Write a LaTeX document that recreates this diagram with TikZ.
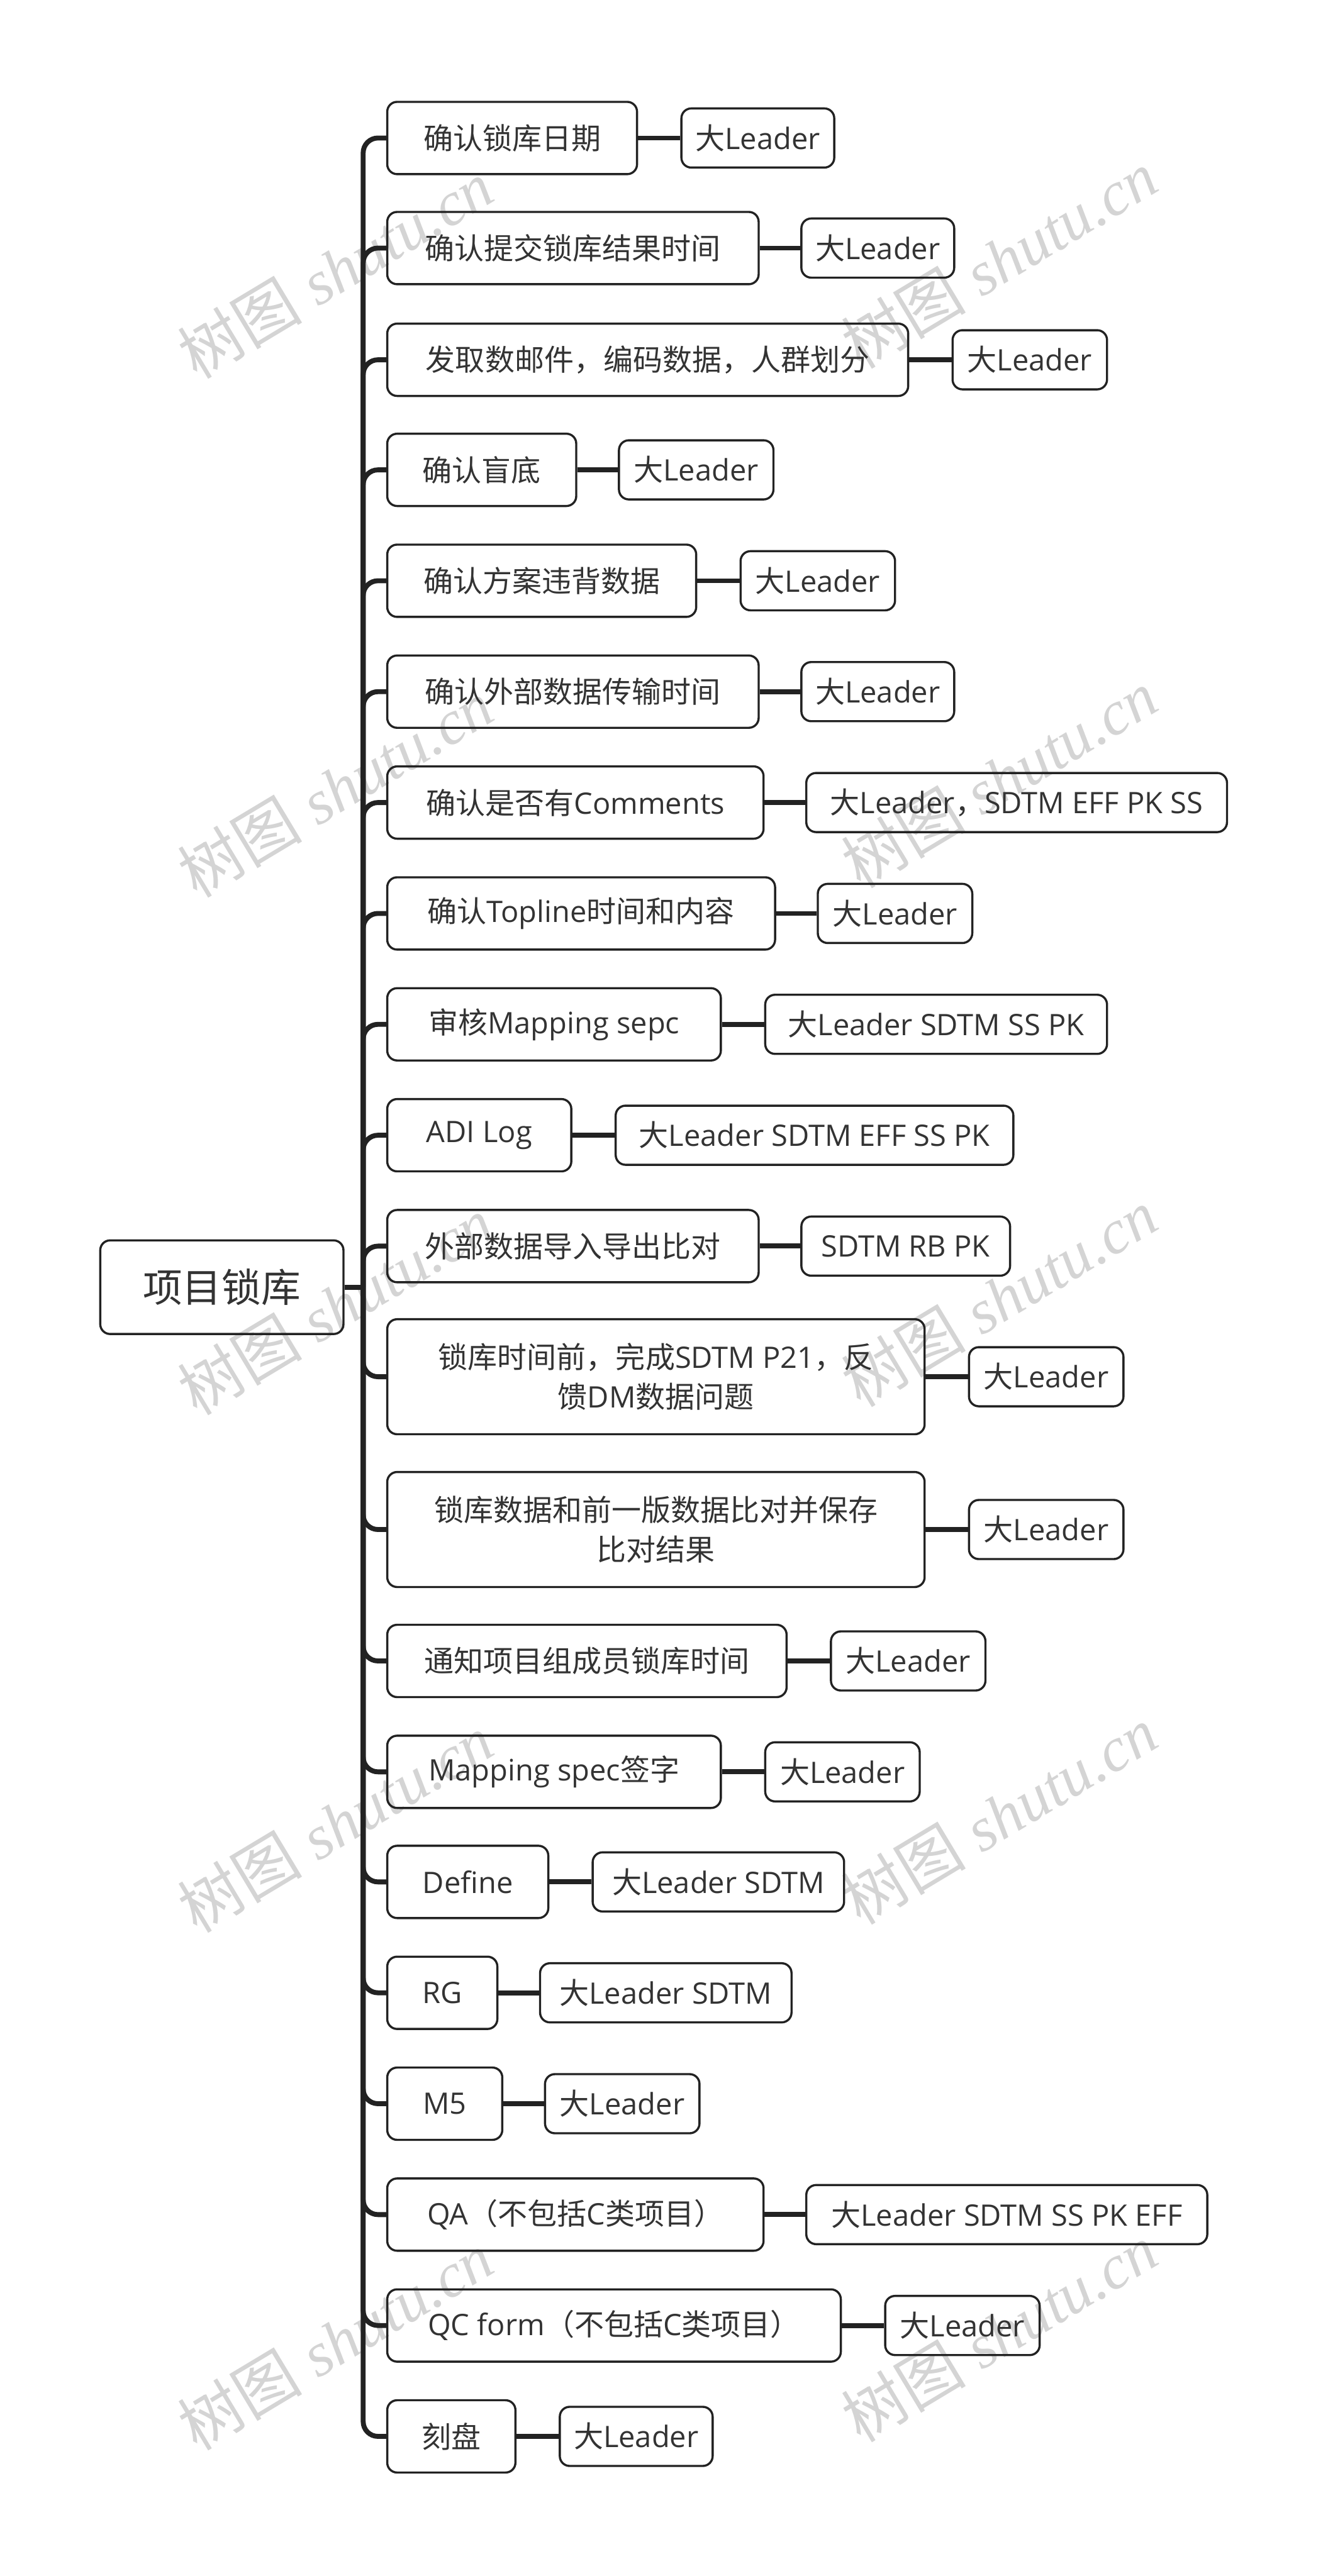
\documentclass[tikz,border=0pt]{standalone}
\usepackage{fontspec}
\setmainfont{Open Sans}
\newfontfamily\zhfont{Noto Sans CJK SC}
\newfontfamily\wmfont{Liberation Serif}
\newcommand\zh[1]{{\zhfont #1}}
\definecolor{txt}{HTML}{333333}
\definecolor{edge}{HTML}{222222}
\definecolor{wm}{HTML}{D4D4D4}
\begin{document}
\begin{tikzpicture}[x=1pt,y=1pt,
  box/.style={draw=edge, line width=1.3pt, rounded corners=6pt, inner sep=0pt,
    text=txt, font=\fontsize{18}{24}\selectfont, align=center, anchor=west},
  childbox/.style={box, minimum height=44pt},
  tallbox/.style={box, minimum height=70pt},
  leafbox/.style={box, minimum height=36pt},
  rootbox/.style={draw=edge, line width=1.3pt, rounded corners=6pt, inner sep=0pt,
    text=txt, font=\fontsize{24}{30}\selectfont, minimum width=148pt, minimum height=57pt},
  conn/.style={draw=edge, line width=3pt},
  branch/.style={conn, rounded corners=9pt},
  wmark/.style={text=wm, rotate=31, font=\fontsize{38}{40}\selectfont}
]
\useasboundingbox (0,0) rectangle (808,-1568);

% watermarks
\foreach \wx/\wy [count=\k] in {204/164,608/158,204/480,608/474,204/795,608/790,204/1110,608/1105,204/1425,608/1420}
  \node[wmark] (wm\k) at (\wx,-\wy) {\zh{树图} {\wmfont\itshape shutu.cn}};

% root
\node[rootbox] (root) at (135,-783.5) {\zh{项目锁库}};
\coordinate (tr) at (221,-783.5);
\draw[conn] (root.east) -- (tr);

% children
\node[childbox, minimum width=152pt] (c1) at (235,-84) {\zh{确认锁库日期}};
\node[childbox, minimum width=226pt] (c2) at (235,-151) {\zh{确认提交锁库结果时间}};
\node[childbox, minimum width=317pt] (c3) at (235,-219) {\zh{发取数邮件，编码数据，人群划分}};
\node[childbox, minimum width=115pt] (c4) at (235,-286) {\zh{确认盲底}};
\node[childbox, minimum width=188pt] (c5) at (235,-353.5) {\zh{确认方案违背数据}};
\node[childbox, minimum width=226pt] (c6) at (235,-421) {\zh{确认外部数据传输时间}};
\node[childbox, minimum width=229pt] (c7) at (235,-488.5) {\zh{确认是否有}Comments};
\node[childbox, minimum width=236pt] (c8) at (235,-556) {\zh{确认}Topline\zh{时间和内容}};
\node[childbox, minimum width=203pt] (c9) at (235,-623.5) {\zh{审核}Mapping sepc};
\node[childbox, minimum width=112pt] (c10) at (235,-691) {ADI Log};
\node[childbox, minimum width=226pt] (c11) at (235,-758.5) {\zh{外部数据导入导出比对}};
\node[tallbox, minimum width=327pt] (c12) at (235,-838) {\zh{锁库时间前，完成}SDTM P21\zh{，反}\\\zh{馈}DM\zh{数据问题}};
\node[tallbox, minimum width=327pt] (c13) at (235,-931) {\zh{锁库数据和前一版数据比对并保存}\\\zh{比对结果}};
\node[childbox, minimum width=243pt] (c14) at (235,-1011) {\zh{通知项目组成员锁库时间}};
\node[childbox, minimum width=203pt] (c15) at (235,-1078.5) {Mapping spec\zh{签字}};
\node[childbox, minimum width=98pt] (c16) at (235,-1145.5) {Define};
\node[childbox, minimum width=67pt] (c17) at (235,-1213) {RG};
\node[childbox, minimum width=70pt] (c18) at (235,-1280.5) {M5};
\node[childbox, minimum width=229pt] (c19) at (235,-1348) {QA\zh{（不包括}C\zh{类项目）}};
\node[childbox, minimum width=276pt] (c20) at (235,-1415.5) {QC form\zh{（不包括}C\zh{类项目）}};
\node[childbox, minimum width=78pt] (c21) at (235,-1483) {\zh{刻盘}};

% leaves
\node[leafbox, minimum width=93pt] (l1) at (414,-84) {\zh{大}Leader};
\node[leafbox, minimum width=93pt] (l2) at (487,-151) {\zh{大}Leader};
\node[leafbox, minimum width=94pt] (l3) at (579,-219) {\zh{大}Leader};
\node[leafbox, minimum width=94pt] (l4) at (376,-286) {\zh{大}Leader};
\node[leafbox, minimum width=94pt] (l5) at (450,-353.5) {\zh{大}Leader};
\node[leafbox, minimum width=93pt] (l6) at (487,-421) {\zh{大}Leader};
\node[leafbox, minimum width=256pt] (l7) at (490,-488.5) {\zh{大}Leader\zh{，}SDTM EFF PK SS};
\node[leafbox, minimum width=94pt] (l8) at (497,-556) {\zh{大}Leader};
\node[leafbox, minimum width=208pt] (l9) at (465,-623.5) {\zh{大}Leader SDTM SS PK};
\node[leafbox, minimum width=242pt] (l10) at (374,-691) {\zh{大}Leader SDTM EFF SS PK};
\node[leafbox, minimum width=127pt] (l11) at (487,-758.5) {SDTM RB PK};
\node[leafbox, minimum width=94pt] (l12) at (589,-838) {\zh{大}Leader};
\node[leafbox, minimum width=94pt] (l13) at (589,-931) {\zh{大}Leader};
\node[leafbox, minimum width=94pt] (l14) at (505,-1011) {\zh{大}Leader};
\node[leafbox, minimum width=94pt] (l15) at (465,-1078.5) {\zh{大}Leader};
\node[leafbox, minimum width=153pt] (l16) at (360,-1145.5) {\zh{大}Leader SDTM};
\node[leafbox, minimum width=153pt] (l17) at (328,-1213) {\zh{大}Leader SDTM};
\node[leafbox, minimum width=94pt] (l18) at (331,-1280.5) {\zh{大}Leader};
\node[leafbox, minimum width=244pt] (l19) at (490,-1348) {\zh{大}Leader SDTM SS PK EFF};
\node[leafbox, minimum width=94pt] (l20) at (538,-1415.5) {\zh{大}Leader};
\node[leafbox, minimum width=93pt] (l21) at (340,-1483) {\zh{大}Leader};

% connectors
\foreach \i in {1,...,21} {
  \draw[branch] (tr) |- (c\i.west);
  \draw[conn] (c\i.east) -- (l\i.west);
}
\end{tikzpicture}
\end{document}
